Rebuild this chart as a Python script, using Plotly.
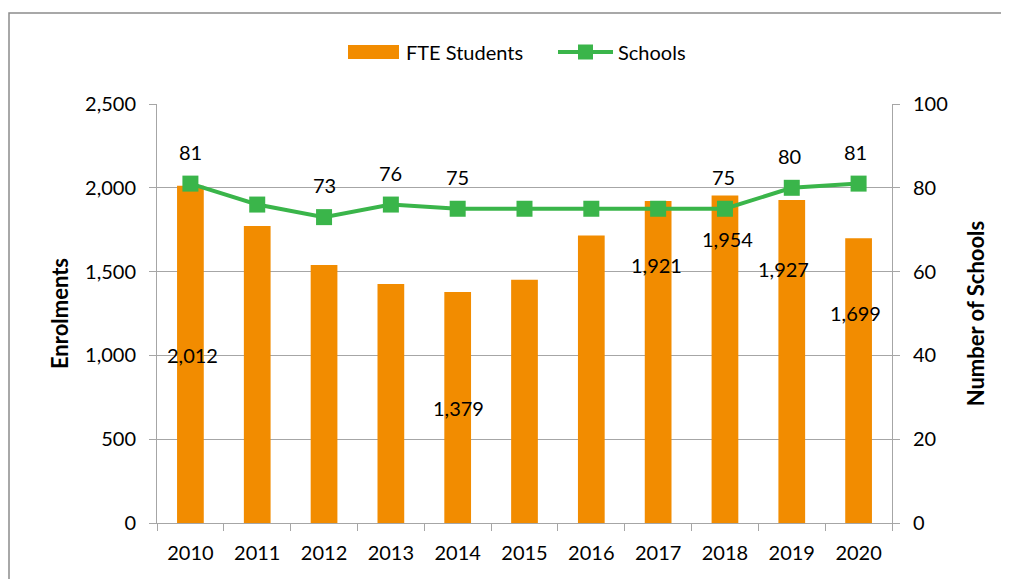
import plotly.graph_objects as go

years = ["2010", "2011", "2012", "2013", "2014", "2015", "2016", "2017", "2018", "2019", "2020"]
fte_students = [2012, 1772, 1539, 1426, 1379, 1452, 1716, 1921, 1954, 1927, 1699]
schools = [81, 76, 73, 76, 75, 75, 75, 75, 75, 80, 81]

# which points carry data labels (as in the original)
bar_label_years = ["2010", "2014", "2017", "2018", "2019", "2020"]
school_label_years = ["2010", "2012", "2013", "2014", "2018", "2019", "2020"]
# manual label placement (left-axis units / pixel shifts), like hand-moved Excel labels
bar_label_pos = [1002, 686, 1539, 1694, 1515, 1253]
bar_label_xshift = [2, 1, -2, 3, -8, -3]
school_label_xshift = [0, 0, 0, 0, -1, -2, -3]

ORANGE = "#F28C00"
GREEN = "#3AB54A"
AXIS_GREY = "#A6A6A6"
FONT = "Lato"
FS = 20

# plot area in pixels of the 1001x571 figure (page body adds 8px offset)
L, T, PW, PH = 149, 96, 735, 419
W, H = 1001, 571


def px(xref_px):  # reference-screen x -> paper x
    return (xref_px - 8 - L) / PW


def py(yref_px):  # reference-screen y -> paper y
    return (T + PH - (yref_px - 8)) / PH


fig = go.Figure()
fig.add_trace(go.Bar(
    x=years, y=fte_students, name="FTE Students",
    marker=dict(color=ORANGE, line=dict(width=0)),
    yaxis="y", showlegend=False,
))
fig.add_trace(go.Scatter(
    x=years, y=schools, name="Schools", mode="lines+markers",
    line=dict(color=GREEN, width=4),
    marker=dict(symbol="square", size=16, color=GREEN),
    yaxis="y2", showlegend=False,
))

annotations = []
for yr, pos, xs in zip(bar_label_years, bar_label_pos, bar_label_xshift):
    i = years.index(yr)
    annotations.append(dict(x=i, y=pos, xref="x", yref="y", text=f"{fte_students[i]:,}",
                            showarrow=False, xshift=xs,
                            font=dict(family=FONT, size=FS, color="#000000")))
for yr, xs in zip(school_label_years, school_label_xshift):
    i = years.index(yr)
    annotations.append(dict(x=i, y=schools[i], xref="x", yref="y2", text=str(schools[i]),
                            showarrow=False, yshift=32, xshift=xs,
                            font=dict(family=FONT, size=FS, color="#000000")))

# legend (drawn like the Excel legend: wide swatch + line-with-marker)
shapes = [
    dict(type="rect", xref="paper", yref="paper", x0=px(348), x1=px(399), y0=py(59), y1=py(45),
         fillcolor=ORANGE, line=dict(width=0)),
    dict(type="line", xref="paper", yref="paper", x0=px(558), x1=px(613), y0=py(52), y1=py(52),
         line=dict(color=GREEN, width=4)),
    dict(type="rect", xref="paper", yref="paper", x0=px(578), x1=px(593), y0=py(59.5), y1=py(44.5),
         fillcolor=GREEN, line=dict(width=0)),
    # chart border
    dict(type="rect", xref="paper", yref="paper", x0=px(9), x1=1.3, y0=-0.3, y1=py(13),
         line=dict(color="#8C8C8C", width=1.5), fillcolor="rgba(0,0,0,0)", layer="below"),
]
annotations.append(dict(x=px(404), y=py(52), xref="paper", yref="paper", text="FTE Students",
                        xanchor="left", yanchor="middle", showarrow=False,
                        font=dict(family=FONT, size=FS, color="#000000")))
annotations.append(dict(x=px(616), y=py(52), xref="paper", yref="paper", text="Schools",
                        xanchor="left", yanchor="middle", showarrow=False,
                        font=dict(family=FONT, size=FS, color="#000000")))

fig.update_layout(
    width=W, height=H,
    margin=dict(l=L, r=W - L - PW, t=T, b=H - T - PH),
    paper_bgcolor="white", plot_bgcolor="white",
    font=dict(family=FONT, size=FS, color="#000000"),
    bargap=0.6,
    showlegend=False,
    xaxis=dict(type="category", range=[-0.5, 10.5], showgrid=False,
               showline=True, linecolor=AXIS_GREY, linewidth=1,
               ticks="outside", tickson="boundaries", ticklen=7, tickcolor=AXIS_GREY,
               ticklabelstandoff=12,
               tickfont=dict(family=FONT, size=FS)),
    yaxis=dict(range=[0, 2500], dtick=500, tickformat=",", showgrid=True,
               gridcolor=AXIS_GREY, gridwidth=1, zeroline=False,
               showline=True, linecolor=AXIS_GREY, linewidth=1,
               ticks="outside", ticklen=7, tickcolor=AXIS_GREY, ticklabelstandoff=9,
               tickfont=dict(family=FONT, size=FS),
               title=dict(text="<b>Enrolments</b>", font=dict(family=FONT, size=22), standoff=10)),
    yaxis2=dict(range=[0, 100], dtick=20, overlaying="y", side="right", showgrid=False,
                zeroline=False, showline=True, linecolor=AXIS_GREY, linewidth=1,
                ticks="outside", ticklen=7, tickcolor=AXIS_GREY, ticklabelstandoff=9,
                tickfont=dict(family=FONT, size=FS),
                title=dict(text="<b>Number of Schools</b>", font=dict(family=FONT, size=22), standoff=21)),
    annotations=annotations,
    shapes=shapes,
)

fig.write_html("out.html")
